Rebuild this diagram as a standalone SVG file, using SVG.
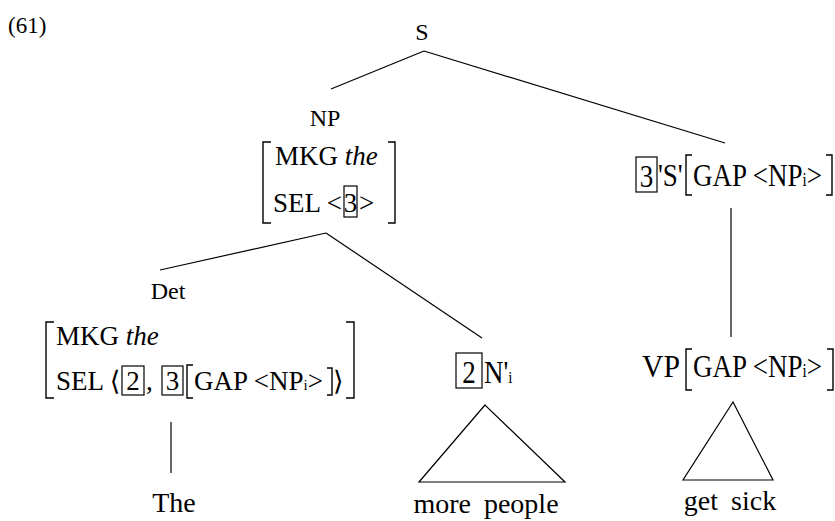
<svg xmlns="http://www.w3.org/2000/svg" width="835" height="521" viewBox="0 0 835 521" font-family="Liberation Serif" fill="#000">
  <rect width="835" height="521" fill="#fff"/>

  <text x="8" y="33" font-size="23" font-family="Liberation Serif" style="font-family:'Liberation Serif',serif">(61)</text>

  <!-- tree branches and the two roof triangles -->
  <g id="connectors" stroke="#000" stroke-width="1.2" fill="none">
    <line x1="424" y1="51" x2="331" y2="89"/>
    <line x1="424" y1="51" x2="725" y2="143"/>
    <line x1="326" y1="233" x2="160" y2="270"/>
    <line x1="326" y1="233" x2="482" y2="338"/>
    <line x1="731" y1="208" x2="731" y2="337"/>
    <line x1="171" y1="422" x2="171" y2="473"/>
    <polygon points="485,405 419,482 565,482"/>
    <polygon points="733,402 683,480 773,480"/>
  </g>

  <g id="s">
    <text x="422" y="40" font-size="24" text-anchor="middle" style="font-family:'Liberation Serif',serif">S</text>
  </g>

  <g id="np" font-size="27">
    <text x="325" y="126" font-size="24" text-anchor="middle" style="font-family:'Liberation Serif',serif">NP</text>
    <g stroke="#000" stroke-width="1.4" fill="none">
      <path d="M271,142 H263 V223 H271"/>
      <path d="M388,142 H395 V223 H388"/>
      <rect x="344" y="186" width="13" height="31" stroke-width="1.2"/>
    </g>
    <text x="275" y="165" style="font-family:'Liberation Serif',serif">MKG <tspan font-style="italic">the</tspan></text>
    <text x="273" y="212" style="font-family:'Liberation Serif',serif">SEL &lt;</text>
    <text x="350.5" y="212" text-anchor="middle" style="font-family:'Liberation Serif',serif">3</text>
    <text x="359" y="212" style="font-family:'Liberation Serif',serif">&gt;</text>
  </g>

  <g id="sbar" font-size="27">
    <g stroke="#000" stroke-width="1.4" fill="none">
      <rect x="636" y="157" width="21" height="35" stroke-width="1.2"/>
      <path d="M692,155 H686 V195 H692"/>
      <path d="M826,155 H832 V195 H826"/>
    </g>
    <text transform="translate(646.5,187) scale(1,1.2)" text-anchor="middle" style="font-family:'Liberation Serif',serif">3</text>
    <text transform="translate(658,186) scale(1,1.2)" style="font-family:'Liberation Serif',serif">'S'</text>
    <text transform="translate(693,186) scale(1,1.2)" style="font-family:'Liberation Serif',serif">GAP &lt;NP<tspan font-size="15">i</tspan>&gt;</text>
  </g>

  <g id="det" font-size="27">
    <text x="168" y="299" font-size="24" text-anchor="middle" style="font-family:'Liberation Serif',serif">Det</text>
    <g stroke="#000" stroke-width="1.4" fill="none">
      <path d="M54,322 H46 V398 H54"/>
      <path d="M346,322 H354 V398 H346"/>
      <rect x="122" y="366" width="22" height="29" stroke-width="1.2"/>
      <rect x="162" y="366" width="21" height="29" stroke-width="1.2"/>
      <path d="M193,365 H187 V398 H193"/>
      <path d="M327,368 H332 V395 H327"/>
    </g>
    <text x="56" y="345" style="font-family:'Liberation Serif',serif">MKG <tspan font-style="italic">the</tspan></text>
    <text x="56" y="390" style="font-family:'Liberation Serif','DejaVu Serif',serif">SEL ⟨</text>
    <text x="133" y="390" text-anchor="middle" style="font-family:'Liberation Serif',serif">2</text>
    <text x="146" y="390" style="font-family:'Liberation Serif',serif">,</text>
    <text x="172.5" y="390" text-anchor="middle" style="font-family:'Liberation Serif',serif">3</text>
    <text x="194" y="390" style="font-family:'Liberation Serif',serif">GAP &lt;NP<tspan font-size="15">i</tspan>&gt;</text>
    <text x="333" y="390" style="font-family:'Liberation Serif','DejaVu Serif',serif">⟩</text>
  </g>

  <g id="nbar" font-size="27">
    <rect x="456" y="353" width="26" height="35" stroke="#000" stroke-width="1.2" fill="none"/>
    <text transform="translate(469,383) scale(1,1.15)" text-anchor="middle" style="font-family:'Liberation Serif',serif">2</text>
    <text transform="translate(484,383) scale(1,1.15)" style="font-family:'Liberation Serif',serif">N'<tspan font-size="15">i</tspan></text>
  </g>

  <g id="vp" font-size="27">
    <g stroke="#000" stroke-width="1.4" fill="none">
      <path d="M692,349 H686 V390 H692"/>
      <path d="M827,349 H833 V390 H827"/>
    </g>
    <text transform="translate(642,377) scale(1.1,1.2)" style="font-family:'Liberation Serif',serif">VP</text>
    <text transform="translate(693,377) scale(1,1.2)" style="font-family:'Liberation Serif',serif">GAP &lt;NP<tspan font-size="15">i</tspan>&gt;</text>
  </g>

  <g id="the" font-size="28">
    <text x="174" y="512" text-anchor="middle" style="font-family:'Liberation Serif',serif">The</text>
  </g>
  <g id="more-people" font-size="28">
    <text x="486" y="513" text-anchor="middle" word-spacing="6" style="font-family:'Liberation Serif',serif">more people</text>
  </g>
  <g id="get-sick" font-size="28">
    <text x="730" y="510" text-anchor="middle" word-spacing="6" style="font-family:'Liberation Serif',serif">get sick</text>
  </g>
</svg>
